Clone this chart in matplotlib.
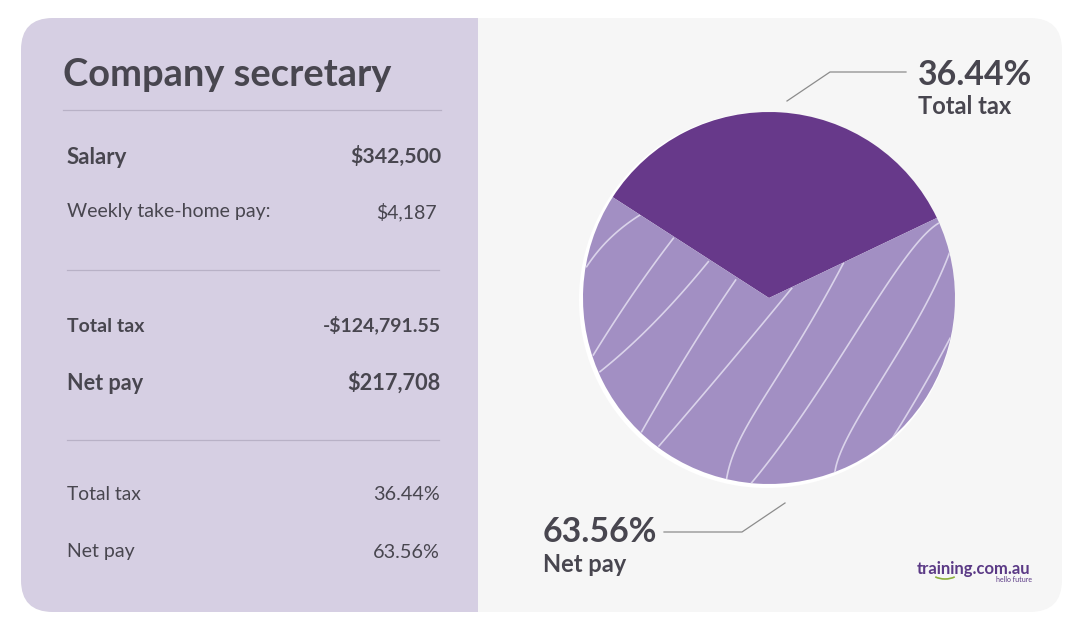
import numpy as np
import matplotlib
matplotlib.use("Agg")
import matplotlib.pyplot as plt
from matplotlib.patches import FancyBboxPatch, Rectangle, Circle, Arc

# ---------- data ----------
title = "Company secretary"
summary_rows = ["Salary", "Weekly take-home pay:", "Total tax", "Net pay", "Total tax", "Net pay"]
summary_values = ["$342,500", "$4,187", "-$124,791.55", "$217,708", "36.44%", "63.56%"]
row_bold = [True, False, True, True, False, False]
name_y = [157, 212, 326, 383, 495, 552]
value_y = [156, 212, 325, 383, 495, 552]
value_right = [441, 437, 441, 441, 440, 440]
name_size = [16, 14, 14, 15.6, 13.9, 14]
value_size = [15.3, 14, 14, 15.7, 14.3, 14.3]
pie_labels = ["Total tax", "Net pay"]
pie_percent = ["36.44%", "63.56%"]
drawn_shares = [33.8, 66.2]  # shares as drawn in the picture
pie_colors = ["#67398A", "#A28FC3"]

W, H = 1080, 623
fig = plt.figure(figsize=(W / 100, H / 100), dpi=100, facecolor="white")
ax = fig.add_axes([0, 0, 1, 1])
plt.rcParams["font.family"] = ["Lato", "DejaVu Sans"]
Y = lambda y: H - y
TXT = "#48464F"

# panels
round_box = "round,pad=0,rounding_size=32"
right = FancyBboxPatch((21, Y(612)), 1041, 594, boxstyle=round_box, fc="#F6F6F6", ec="none", zorder=1)
ax.add_patch(right)
left = FancyBboxPatch((21, Y(612)), 1041, 594, boxstyle=round_box, fc="#D6CFE3", ec="none", zorder=2)
ax.add_patch(left)
left.set_clip_path(Rectangle((0, 0), 478, H, transform=ax.transData))

# pie
ax.add_patch(Circle((767, Y(300)), 188, fc="white", ec="none", zorder=3))
wedges, _ = ax.pie(drawn_shares, colors=pie_colors, startangle=25.5, center=(769, Y(298)), radius=186,
                   wedgeprops=dict(linewidth=0))
for w in wedges:
    w.set_zorder(4)

# hairline texture on the net-pay wedge (zoom coordinates of the crop at 560,90, scale 3)
hair = [
    [(240, 375), (150, 445), (80, 530)],
    [(340, 445), (220, 610), (100, 795)],
    [(445, 515), (280, 700), (120, 845)],
    [(527, 570), (390, 780), (245, 1025)],
    [(695, 595), (500, 830), (297, 1068)],
    [(850, 520), (680, 815), (560, 1010), (500, 1165)],
    [(1135, 400), (990, 570), (800, 865), (575, 1178)],
    [(1168, 490), (1040, 745), (900, 975), (825, 1145)],
    [(1170, 745), (1090, 890), (1000, 1040)],
]
for pts in hair:
    p = np.array(pts, float)
    t = np.linspace(0, 1, len(p))
    tt = np.linspace(0, 1, 80)
    xs = np.polyval(np.polyfit(t, p[:, 0], len(p) - 1), tt) / 3 + 560
    ys = np.polyval(np.polyfit(t, p[:, 1], len(p) - 1), tt) / 3 + 90
    ln, = ax.plot(xs, Y(ys), color="#DAD3EA", lw=1.2, zorder=5)
    ln.set_clip_path(wedges[1])

# left text
ax.text(63, Y(75), title, fontsize=27.4, fontweight="bold", color=TXT, va="center", ha="left", zorder=6)
for yy, x0, x1 in [(110, 63, 441), (270, 67, 439), (440, 67, 439)]:
    ax.plot([x0, x1], [Y(yy), Y(yy)], color="#B8B1C6", lw=0.9, zorder=6)
for name, val, b, ny, vy, xr, ns, vs in zip(summary_rows, summary_values, row_bold, name_y, value_y, value_right, name_size, value_size):
    fw = "bold" if b else "normal"
    ax.text(67, Y(ny), name, fontsize=ns, fontweight=fw, color=TXT, va="center", ha="left", zorder=6)
    ax.text(xr, Y(vy), val, fontsize=vs, fontweight=fw, color=TXT, va="center", ha="right", zorder=6)

# callouts
ax.plot([787, 830, 906], Y(np.array([101, 72, 72])), color="#8C8C8C", lw=0.9, zorder=6)
ax.plot([664, 742, 785], Y(np.array([532, 532, 503])), color="#8C8C8C", lw=0.9, zorder=6)
ax.text(918, Y(75), pie_percent[0], fontsize=24.4, fontweight="bold", color=TXT, va="center", ha="left", zorder=6)
ax.text(918, Y(107), pie_labels[0], fontsize=17, fontweight="bold", color=TXT, va="center", ha="left", zorder=6)
ax.text(543, Y(532), pie_percent[1], fontsize=24.4, fontweight="bold", color=TXT, va="center", ha="left", zorder=6)
ax.text(543, Y(565), pie_labels[1], fontsize=17, fontweight="bold", color=TXT, va="center", ha="left", zorder=6)

# logo
ax.text(917, Y(569), "training.com.au", fontsize=12, fontweight="bold", color="#5B3A86", va="center", ha="left", zorder=6)
ax.add_patch(Arc((945, Y(570)), 30, 18, theta1=215, theta2=325, color="#8DB03C", lw=1.2, zorder=6))
ax.text(1032, Y(579), "hello future", fontsize=5, color="#5B3A86", va="center", ha="right", zorder=6)

ax.set_xlim(0, W)
ax.set_ylim(0, H)
ax.set_aspect("auto")
ax.axis("off")
fig.savefig("out.png", dpi=100, facecolor="white")
